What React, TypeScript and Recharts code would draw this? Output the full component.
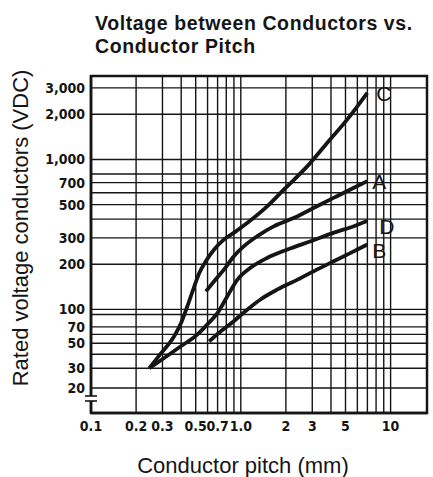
import { LineChart, Line, XAxis, YAxis, CartesianGrid, ReferenceArea } from "recharts";

const W = 433;
const H = 477;
const INK = "#151515";
const SANS = "'Liberation Sans', Arial, Helvetica, sans-serif";
const NARROW = "'Liberation Sans Narrow', 'DejaVu Sans Condensed', 'Liberation Sans', sans-serif";

// curve readings: conductor pitch (mm) -> rated voltage (VDC)
const PITCH_C = [0.245, 0.29, 0.36, 0.4, 0.44, 0.49, 0.53, 0.585, 0.664, 0.774, 0.902, 1.108, 1.506, 1.944, 2.785, 3.78, 5.14, 6.99];
const VOLT_C = [30, 40, 58, 76, 105, 143, 176, 210, 251, 293, 325, 378, 488, 631, 902, 1291, 1848, 2783];

const PITCH_A = [0.585, 0.664, 0.774, 0.902, 1.05, 1.29, 1.67, 2.27, 3.08, 4.19, 5.69, 6.99];
const VOLT_A = [132, 154, 185, 227, 264, 308, 359, 408, 476, 556, 648, 717];

const PITCH_D = [0.245, 0.308, 0.398, 0.514, 0.6, 0.7, 0.815, 0.95, 1.166, 1.506, 2.05, 2.93, 4.19, 5.69, 6.99];
const VOLT_D = [30, 37, 47, 60, 74, 93, 123, 158, 190, 221, 251, 285, 325, 359, 388];

const PITCH_B = [0.615, 0.736, 0.902, 1.108, 1.36, 1.76, 2.39, 3.24, 4.41, 6.0, 6.99];
const VOLT_B = [52, 64, 79, 100, 117, 136, 158, 185, 215, 251, 271];

// grid lines and the ones that carry a printed label
const X_TICKS = [0.1, 0.2, 0.3, 0.4, 0.5, 0.6, 0.7, 0.8, 0.9, 1, 2, 3, 4, 5, 6, 7, 8, 9, 10];
const X_LABELED = [0.1, 0.2, 0.3, 0.5, 0.7, 1, 2, 3, 5, 10];
const X_TEXT = ["0.1", "0.2", "0.3", "0.5", "0.7", "1.0", "2", "3", "5", "10"];

const Y_TICKS = [20, 30, 40, 50, 60, 70, 90, 100, 200, 300, 400, 500, 600, 700, 800, 1000, 2000, 3000];
const Y_LABELED = [20, 30, 50, 70, 100, 200, 300, 500, 700, 1000, 2000, 3000];
const Y_TEXT = ["20", "30", "50", "70", "100", "200", "300", "500", "700", "1,000", "2,000", "3,000"];

const X_DOMAIN = [0.1, 17.5];
const Y_DOMAIN = [12, 3600];

const toRows = (xs: number[], ys: number[]) => xs.map((x, i) => ({ pitch: x, volt: ys[i] }));

// the printed voltage axis is logarithmic above 100 V and squeezed below it
function voltScale() {
  let dom = [1, 10];
  let rng = [0, 1];
  const warp = (v: number) => (v >= 100 ? Math.log10(v) : 2 - (2 - Math.log10(v)) * 0.75);
  const s: any = (v: number) => {
    const t = (warp(v) - warp(dom[0])) / (warp(dom[1]) - warp(dom[0]));
    return rng[0] + t * (rng[1] - rng[0]);
  };
  s.domain = (d?: number[]) => {
    if (d === undefined) return dom.slice();
    dom = [Number(d[0]), Number(d[d.length - 1])];
    return s;
  };
  s.range = (r?: number[]) => {
    if (r === undefined) return rng.slice();
    rng = [Number(r[0]), Number(r[r.length - 1])];
    return s;
  };
  s.ticks = () => Y_TICKS;
  s.tickFormat = () => (v: number) => String(v);
  s.nice = () => s;
  s.clamp = () => s;
  s.invert = (px: number) => {
    const w = warp(dom[0]) + ((px - rng[0]) / (rng[1] - rng[0])) * (warp(dom[1]) - warp(dom[0]));
    return w >= 2 ? Math.pow(10, w) : Math.pow(10, 2 - (2 - w) / 0.75);
  };
  s.copy = () => voltScale().domain(dom).range(rng);
  return s;
}

const tickLabel = (vals: number[], texts: string[]) => (v: number) => {
  const i = vals.findIndex((t) => Math.abs(t - v) < 1e-9);
  return i < 0 ? "" : texts[i];
};

const endLabel = (name: string, n: number, dx: number, dy: number) => (p: any) =>
  p.index === n - 1 ? (
    <text x={p.x + dx} y={p.y + dy} fill={INK} fontFamily={SANS} fontSize={21} dominantBaseline="central">
      {name}
    </text>
  ) : null;

export default function App() {
  const series = [
    { key: "C", data: toRows(PITCH_C, VOLT_C), dx: 9, dy: 1 },
    { key: "A", data: toRows(PITCH_A, VOLT_A), dx: 5, dy: 0 },
    { key: "D", data: toRows(PITCH_D, VOLT_D), dx: 12, dy: 5 },
    { key: "B", data: toRows(PITCH_B, VOLT_B), dx: 5, dy: 6 },
  ];

  return (
    <div style={{ position: "absolute", left: 0, top: 0, width: W, height: H, background: "#fff" }}>
      <LineChart width={W} height={H} margin={{ top: 76, right: 6, bottom: 34, left: 31 }}>
        <CartesianGrid stroke={INK} strokeWidth={1.4} />
        <XAxis
          dataKey="pitch"
          type="number"
          scale="log"
          domain={X_DOMAIN}
          allowDataOverflow
          ticks={X_TICKS}
          interval={0}
          height={30}
          tickLine={false}
          tickSize={6}
          tickMargin={2}
          axisLine={{ stroke: INK, strokeWidth: 2.5 }}
          tickFormatter={tickLabel(X_LABELED, X_TEXT)}
          tick={{ fill: INK, fontSize: 14, fontWeight: 700, fontFamily: NARROW }}
        />
        <YAxis
          dataKey="volt"
          type="number"
          scale={voltScale()}
          domain={Y_DOMAIN}
          allowDataOverflow
          ticks={Y_TICKS}
          interval={0}
          width={60}
          tickLine={false}
          tickSize={6}
          tickMargin={0}
          axisLine={{ stroke: INK, strokeWidth: 2.5 }}
          tickFormatter={tickLabel(Y_LABELED, Y_TEXT)}
          tick={{ fill: INK, fontSize: 14, fontWeight: 700, fontFamily: NARROW }}
        />
        <ReferenceArea
          x1={X_DOMAIN[0]}
          x2={X_DOMAIN[1]}
          y1={Y_DOMAIN[0]}
          y2={Y_DOMAIN[1]}
          fill="none"
          stroke={INK}
          strokeWidth={2.5}
          ifOverflow="visible"
        />
        {series.map((s) => (
          <Line
            key={s.key}
            data={s.data}
            dataKey="volt"
            type="monotone"
            stroke={INK}
            strokeWidth={3.8}
            dot={false}
            isAnimationActive={false}
            label={endLabel(s.key, s.data.length, s.dx, s.dy)}
          />
        ))}
      </LineChart>
      <svg width={W} height={H} style={{ position: "absolute", left: 0, top: 0, pointerEvents: "none" }}>
        <text x={95} y={30} fill={INK} fontFamily={SANS} fontSize={19.5} fontWeight={700} letterSpacing={0.6}>
          Voltage between Conductors vs.
        </text>
        <text x={95} y={52.5} fill={INK} fontFamily={SANS} fontSize={19.5} fontWeight={700} letterSpacing={0.6}>
          Conductor Pitch
        </text>
        <text
          x={28}
          y={228}
          transform="rotate(-90, 28, 228)"
          textAnchor="middle"
          fill={INK}
          fontFamily={SANS}
          fontSize={22}
        >
          Rated voltage conductors (VDC)
        </text>
        <text x={243} y={473} textAnchor="middle" fill={INK} fontFamily={SANS} fontSize={22}>
          Conductor pitch (mm)
        </text>
        {/* axis break mark */}
        <rect x={89} y={396} width={5} height={5} fill="#fff" />
        <line x1={85} y1={396} x2={97} y2={396} stroke={INK} strokeWidth={1.6} />
        <line x1={85} y1={401} x2={97} y2={401} stroke={INK} strokeWidth={1.6} />
      </svg>
    </div>
  );
}
